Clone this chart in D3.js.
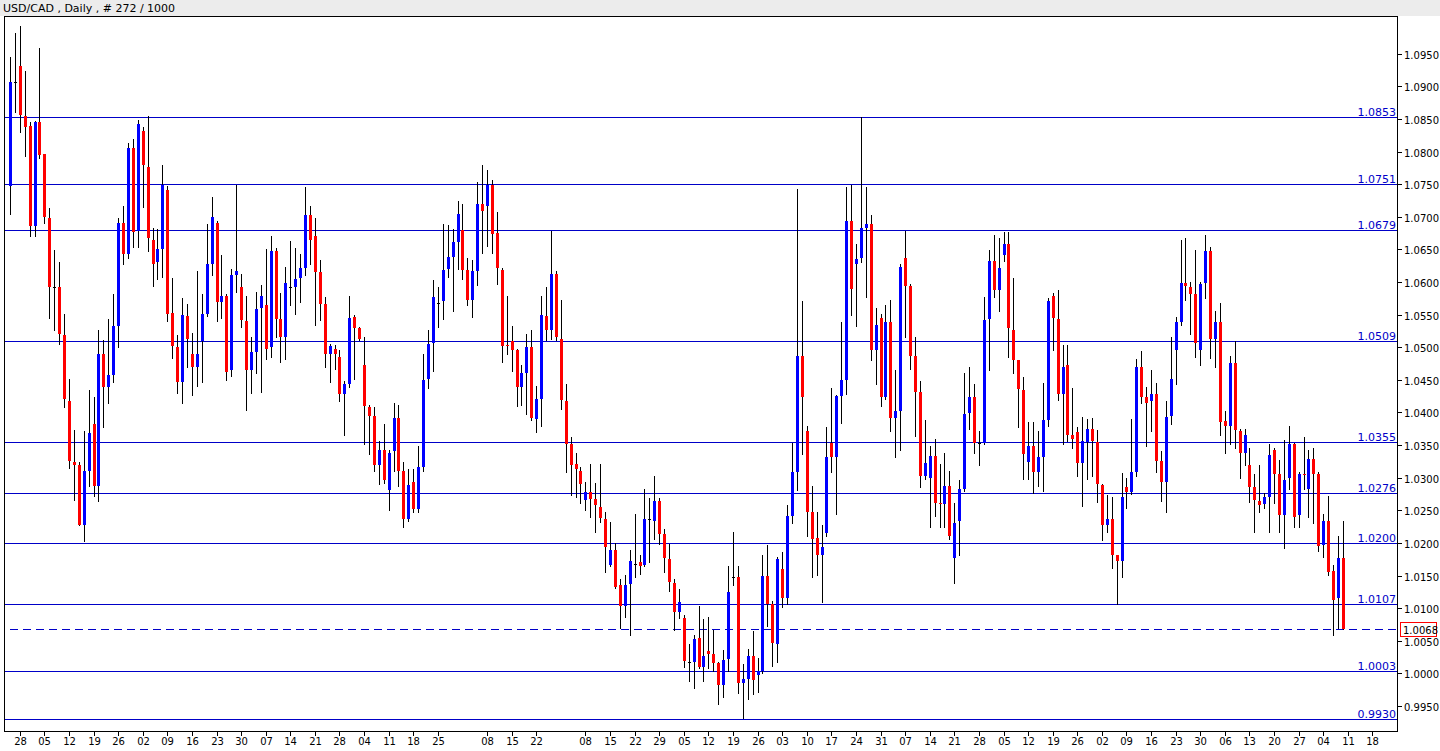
<!DOCTYPE html>
<html><head><meta charset="utf-8">
<script src="https://cdn.jsdelivr.net/npm/d3@7"></script>
<style>body{margin:0;background:#fff;} svg{display:block}</style>
</head><body><svg id="c" width="1440" height="751"></svg>
<script>
const title = "USD/CAD , Daily , # 272 / 1000";

const open = [1.0747,1.0906,1.0931,1.0854,1.0839,1.0686,1.0845,1.0796,1.0698,1.0593,1.0592,1.0518,1.0418,1.0324,1.0319,1.0228,1.0310,1.0382,1.0287,1.0489,1.0439,1.0457,1.0533,1.0690,1.0643,1.0806,1.0678,1.0832,1.0777,1.0665,1.0630,1.0650,1.0741,1.0553,1.0501,1.0447,1.0548,1.0489,1.0470,1.0509,1.0551,1.0628,1.0691,1.0570,1.0579,1.0465,1.0611,1.0593,1.0540,1.0465,1.0493,1.0560,1.0564,1.0501,1.0648,1.0544,1.0515,1.0592,1.0592,1.0606,1.0621,1.0702,1.0670,1.0615,1.0566,1.0489,1.0498,1.0485,1.0429,1.0443,1.0546,1.0529,1.0473,1.0408,1.0394,1.0319,1.0342,1.0281,1.0341,1.0392,1.0310,1.0237,1.0293,1.0252,1.0316,1.0452,1.0507,1.0568,1.0571,1.0620,1.0638,1.0661,1.0680,1.0619,1.0573,1.0617,1.0719,1.0716,1.0749,1.0675,1.0619,1.0503,1.0509,1.0496,1.0439,1.0461,1.0500,1.0390,1.0421,1.0548,1.0527,1.0612,1.0512,1.0417,1.0351,1.0321,1.0310,1.0266,1.0278,1.0267,1.0255,1.0236,1.0166,1.0189,1.0135,1.0103,1.0137,1.0167,1.0170,1.0166,1.0236,1.0234,1.0265,1.0214,1.0175,1.0138,1.0094,1.0085,1.0017,1.0018,1.0054,1.0010,1.0035,1.0030,1.0016,0.9982,1.0022,1.0148,1.0148,0.9985,0.9992,1.0026,0.9997,1.0003,1.0149,1.0106,1.0045,1.0160,1.0116,1.0241,1.0309,1.0487,1.0371,1.0247,1.0208,1.0182,1.0215,1.0353,1.0332,1.0425,1.0449,1.0694,1.0628,1.0637,1.0683,1.0689,1.0496,1.0545,1.0424,1.0539,1.0391,1.0402,1.0637,1.0594,1.0487,1.0432,1.0302,1.0300,1.0333,1.0261,1.0260,1.0287,1.0177,1.0234,1.0283,1.0399,1.0424,1.0353,1.0353,1.0544,1.0632,1.0588,1.0642,1.0658,1.0527,1.0480,1.0434,1.0324,1.0349,1.0309,1.0332,1.0388,1.0579,1.0544,1.0429,1.0473,1.0366,1.0370,1.0322,1.0355,1.0375,1.0355,1.0289,1.0228,1.0237,1.0182,1.0173,1.0285,1.0278,1.0309,1.0469,1.0424,1.0417,1.0429,1.0325,1.0294,1.0395,1.0495,1.0539,1.0599,1.0592,1.0582,1.0495,1.0599,1.0648,1.0512,1.0538,1.0387,1.0380,1.0476,1.0371,1.0338,1.0320,1.0286,1.0265,1.0260,1.0271,1.0342,1.0305,1.0243,1.0300,1.0351,1.0243,1.0306,1.0283,1.0329,1.0305,1.0197,1.0233,1.0157,1.0115,1.0177];
const high = [1.0945,1.0982,1.0992,1.0923,1.0845,1.0847,1.0959,1.0797,1.0713,1.0649,1.0630,1.0551,1.0452,1.0373,1.0324,1.0371,1.0434,1.0423,1.0526,1.0511,1.0544,1.0581,1.0698,1.0716,1.0813,1.0819,1.0849,1.0837,1.0854,1.0683,1.0681,1.0779,1.0747,1.0606,1.0518,1.0575,1.0566,1.0522,1.0617,1.0581,1.0689,1.0730,1.0694,1.0641,1.0581,1.0620,1.0749,1.0612,1.0579,1.0515,1.0584,1.0595,1.0650,1.0670,1.0652,1.0583,1.0623,1.0663,1.0652,1.0643,1.0746,1.0716,1.0698,1.0633,1.0577,1.0505,1.0504,1.0496,1.0448,1.0578,1.0549,1.0531,1.0516,1.0412,1.0408,1.0357,1.0382,1.0342,1.0415,1.0411,1.0324,1.0313,1.0314,1.0349,1.0489,1.0527,1.0603,1.0593,1.0689,1.0687,1.0681,1.0724,1.0720,1.0637,1.0634,1.0753,1.0779,1.0771,1.0757,1.0707,1.0621,1.0578,1.0533,1.0497,1.0473,1.0520,1.0527,1.0441,1.0578,1.0593,1.0678,1.0617,1.0573,1.0443,1.0363,1.0338,1.0316,1.0294,1.0321,1.0292,1.0321,1.0247,1.0232,1.0200,1.0144,1.0151,1.0189,1.0244,1.0181,1.0283,1.0269,1.0303,1.0269,1.0222,1.0199,1.0144,1.0129,1.0089,1.0045,1.0059,1.0104,1.0084,1.0087,1.0067,1.0017,1.0036,1.0164,1.0217,1.0164,1.0014,1.0037,1.0065,1.0023,1.0182,1.0197,1.0111,1.0179,1.0186,1.0258,1.0353,1.0742,1.0571,1.0379,1.0287,1.0247,1.0227,1.0377,1.0437,1.0427,1.0539,1.0746,1.0749,1.0659,1.0853,1.0746,1.0703,1.0560,1.0551,1.0564,1.0572,1.0465,1.0627,1.0678,1.0597,1.0515,1.0448,1.0388,1.0349,1.0360,1.0321,1.0338,1.0311,1.0261,1.0297,1.0461,1.0470,1.0443,1.0371,1.0577,1.0649,1.0672,1.0667,1.0676,1.0676,1.0606,1.0480,1.0454,1.0386,1.0386,1.0371,1.0445,1.0575,1.0583,1.0588,1.0504,1.0504,1.0437,1.0377,1.0393,1.0390,1.0391,1.0373,1.0291,1.0274,1.0270,1.0182,1.0307,1.0300,1.0390,1.0482,1.0494,1.0439,1.0465,1.0445,1.0341,1.0417,1.0515,1.0546,1.0665,1.0667,1.0600,1.0649,1.0600,1.0672,1.0653,1.0555,1.0568,1.0402,1.0487,1.0509,1.0375,1.0375,1.0346,1.0305,1.0320,1.0276,1.0351,1.0346,1.0327,1.0358,1.0380,1.0353,1.0309,1.0362,1.0342,1.0346,1.0309,1.0244,1.0272,1.0166,1.0210,1.0234];
const low = [1.0705,1.0860,1.0830,1.0793,1.0670,1.0670,1.0790,1.0691,1.0545,1.0527,1.0505,1.0408,1.0315,1.0266,1.0227,1.0203,1.0287,1.0272,1.0265,1.0377,1.0415,1.0446,1.0500,1.0627,1.0637,1.0654,1.0654,1.0715,1.0648,1.0594,1.0604,1.0608,1.0540,1.0483,1.0430,1.0415,1.0470,1.0426,1.0441,1.0447,1.0548,1.0611,1.0540,1.0545,1.0450,1.0456,1.0584,1.0531,1.0404,1.0430,1.0461,1.0432,1.0482,1.0485,1.0515,1.0478,1.0482,1.0564,1.0551,1.0570,1.0610,1.0627,1.0534,1.0542,1.0469,1.0446,1.0467,1.0417,1.0366,1.0439,1.0452,1.0511,1.0351,1.0336,1.0311,1.0291,1.0292,1.0250,1.0311,1.0288,1.0225,1.0234,1.0248,1.0248,1.0311,1.0437,1.0463,1.0531,1.0544,1.0608,1.0555,1.0620,1.0605,1.0564,1.0546,1.0595,1.0644,1.0655,1.0644,1.0597,1.0478,1.0489,1.0463,1.0410,1.0412,1.0397,1.0388,1.0370,1.0380,1.0511,1.0512,1.0511,1.0406,1.0309,1.0274,1.0270,1.0261,1.0250,1.0239,1.0217,1.0232,1.0155,1.0164,1.0131,1.0070,1.0087,1.0059,1.0148,1.0153,1.0164,1.0170,1.0206,1.0199,1.0155,1.0126,1.0067,1.0085,1.0010,0.9988,0.9977,1.0008,0.9988,1.0008,1.0004,0.9953,0.9964,1.0004,1.0135,0.9970,0.9931,0.9960,0.9968,0.9971,1.0001,1.0072,1.0012,1.0017,1.0101,1.0107,1.0230,1.0281,1.0336,1.0210,1.0148,1.0151,1.0109,1.0210,1.0309,1.0244,1.0384,1.0428,1.0549,1.0533,1.0630,1.0577,1.0480,1.0443,1.0410,1.0421,1.0371,1.0332,1.0342,1.0515,1.0467,1.0364,1.0286,1.0298,1.0225,1.0241,1.0225,1.0225,1.0206,1.0138,1.0181,1.0280,1.0374,1.0338,1.0319,1.0351,1.0465,1.0577,1.0555,1.0632,1.0485,1.0461,1.0377,1.0298,1.0298,1.0277,1.0287,1.0280,1.0380,1.0496,1.0419,1.0351,1.0357,1.0346,1.0302,1.0256,1.0298,1.0302,1.0263,1.0204,1.0217,1.0162,1.0106,1.0148,1.0254,1.0275,1.0303,1.0415,1.0349,1.0371,1.0309,1.0265,1.0247,1.0382,1.0443,1.0534,1.0573,1.0520,1.0485,1.0472,1.0575,1.0483,1.0470,1.0366,1.0338,1.0351,1.0346,1.0300,1.0319,1.0263,1.0216,1.0248,1.0254,1.0217,1.0261,1.0217,1.0192,1.0283,1.0225,1.0225,1.0283,1.0239,1.0230,1.0188,1.0179,1.0151,1.0059,1.0070,1.0068];
const close = [1.0906,1.0906,1.0856,1.0837,1.0686,1.0845,1.0795,1.0700,1.0593,1.0593,1.0520,1.0421,1.0325,1.0319,1.0228,1.0310,1.0369,1.0287,1.0489,1.0439,1.0457,1.0533,1.0690,1.0643,1.0806,1.0676,1.0843,1.0779,1.0667,1.0628,1.0650,1.0749,1.0551,1.0502,1.0447,1.0550,1.0513,1.0470,1.0489,1.0551,1.0627,1.0700,1.0570,1.0579,1.0462,1.0610,1.0617,1.0542,1.0465,1.0493,1.0559,1.0578,1.0498,1.0648,1.0544,1.0515,1.0599,1.0592,1.0604,1.0621,1.0702,1.0664,1.0615,1.0566,1.0489,1.0502,1.0490,1.0429,1.0443,1.0545,1.0529,1.0512,1.0410,1.0395,1.0320,1.0342,1.0297,1.0338,1.0392,1.0310,1.0237,1.0289,1.0252,1.0316,1.0450,1.0505,1.0577,1.0568,1.0619,1.0638,1.0661,1.0704,1.0619,1.0573,1.0617,1.0719,1.0709,1.0749,1.0674,1.0622,1.0502,1.0502,1.0496,1.0439,1.0461,1.0500,1.0392,1.0421,1.0549,1.0527,1.0612,1.0515,1.0419,1.0351,1.0320,1.0314,1.0291,1.0278,1.0267,1.0258,1.0238,1.0193,1.0189,1.0133,1.0103,1.0135,1.0172,1.0167,1.0164,1.0236,1.0236,1.0265,1.0214,1.0177,1.0140,1.0094,1.0109,1.0019,1.0017,1.0052,1.0010,1.0026,1.0030,1.0016,0.9982,1.0021,1.0124,1.0148,0.9985,0.9991,1.0026,0.9990,1.0003,1.0149,1.0106,1.0046,1.0175,1.0116,1.0241,1.0309,1.0487,1.0424,1.0247,1.0206,1.0182,1.0193,1.0332,1.0332,1.0425,1.0449,1.0694,1.0590,1.0636,1.0683,1.0689,1.0495,1.0534,1.0424,1.0539,1.0391,1.0402,1.0623,1.0594,1.0487,1.0432,1.0302,1.0322,1.0333,1.0261,1.0260,1.0287,1.0210,1.0230,1.0283,1.0397,1.0424,1.0353,1.0353,1.0542,1.0632,1.0588,1.0621,1.0658,1.0529,1.0480,1.0436,1.0336,1.0349,1.0309,1.0331,1.0388,1.0571,1.0545,1.0428,1.0470,1.0366,1.0359,1.0322,1.0357,1.0374,1.0357,1.0291,1.0228,1.0237,1.0182,1.0173,1.0270,1.0278,1.0309,1.0469,1.0424,1.0415,1.0429,1.0326,1.0294,1.0393,1.0452,1.0539,1.0599,1.0594,1.0582,1.0507,1.0597,1.0648,1.0512,1.0538,1.0386,1.0379,1.0476,1.0373,1.0338,1.0366,1.0286,1.0266,1.0258,1.0271,1.0335,1.0305,1.0243,1.0296,1.0351,1.0239,1.0305,1.0305,1.0329,1.0305,1.0195,1.0233,1.0155,1.0113,1.0177,1.0068];

const levels = [1.0853, 1.0751, 1.0679, 1.0509, 1.0355, 1.0276, 1.0200, 1.0107, 1.0003, 0.9930];
const lastPrice = 1.0068;
const priceTicks = [1.0950,1.0900,1.0850,1.0800,1.0750,1.0700,1.0650,1.0600,1.0550,1.0500,1.0450,1.0400,1.0350,1.0300,1.0250,1.0200,1.0150,1.0100,1.0050,1.0000,0.9950];
const dayLabels = ["28","05","12","19","26","02","09","16","23","30","07","14","21","28","04","11","18","25",null,"08","15","22",null,"08","15","22","29","05","12","19","26","03","10","17","24","31","07","14","21","28","05","12","19","26","02","09","16","23","30","06","13","20","27","04","11","18"];
const firstLabelBar = 2, barsPerLabel = 5;

const W = 1440, H = 751;
const plot = {left: 4.5, right: 1397.5, top: 16.5, bottom: 731.5};
const svg = d3.select("#c");
svg.append("rect").attr("width", W).attr("height", H).attr("fill", "#ffffff");
svg.append("rect").attr("width", W).attr("height", 16).attr("fill", "#ececec");

const x = d3.scaleLinear().domain([-1, 282]).range([5, 1397]);
const y = d3.scaleLinear().domain([0.9930, 1.0853]).range([719, 117]);

const fontUI = "Tahoma, 'DejaVu Sans', sans-serif";

svg.append("text").attr("x", 3).attr("y", 12).attr("font-family", fontUI).attr("font-size", 11)
  .attr("fill", "#000").text(title);

const g = svg.append("g").attr("shape-rendering", "crispEdges");

// levels
levels.forEach(v => {
  const yy = Math.round(y(v)) + 0.5;
  g.append("line").attr("x1", plot.left).attr("x2", plot.right).attr("y1", yy).attr("y2", yy)
    .attr("stroke", "#0000c8").attr("stroke-width", 1);
  svg.append("text").attr("x", 1396).attr("y", yy - 2).attr("text-anchor", "end")
    .attr("font-family", fontUI).attr("font-size", 11).attr("fill", "#0000c8").text(v.toFixed(4));
});
// last price dashed line
{
  const yy = Math.round(y(lastPrice)) + 0.5;
  g.append("line").attr("x1", x(0)).attr("x2", plot.right).attr("y1", yy).attr("y2", yy)
    .attr("stroke", "#0000c8").attr("stroke-dasharray", "8,5");
}

// candles
const bars = d3.range(open.length).map(i => ({i, o: open[i], h: high[i], l: low[i], c: close[i]}));
const cg = g.append("g");
cg.selectAll("line.w").data(bars).join("line").attr("class", "w")
  .attr("x1", d => Math.round(x(d.i)) + 0.5).attr("x2", d => Math.round(x(d.i)) + 0.5)
  .attr("y1", d => Math.round(y(d.h))).attr("y2", d => Math.round(y(d.l)) + 1)
  .attr("stroke", "#000");
cg.selectAll("rect.b").data(bars).join("rect").attr("class", "b")
  .attr("x", d => Math.round(x(d.i)) - 1)
  .attr("width", 3)
  .attr("y", d => Math.round(y(Math.max(d.o, d.c))))
  .attr("height", d => Math.max(1, Math.round(y(Math.min(d.o, d.c))) - Math.round(y(Math.max(d.o, d.c)))))
  .attr("fill", d => d.c > d.o ? "#0000ff" : (d.c < d.o ? "#ff0000" : "#000000"));

// frame
g.append("rect").attr("x", plot.left).attr("y", plot.top).attr("width", plot.right - plot.left)
  .attr("height", plot.bottom - plot.top).attr("fill", "none").attr("stroke", "#000");

// right axis
priceTicks.forEach(v => {
  const yy = Math.round(y(v)) + 0.5;
  g.append("line").attr("x1", plot.right).attr("x2", plot.right + 4).attr("y1", yy).attr("y2", yy).attr("stroke", "#000");
  svg.append("text").attr("x", 1404).attr("y", yy + 4).attr("font-family", fontUI).attr("font-size", 10)
    .attr("fill", "#000").text(v.toFixed(4));
});
// last price box
{
  const yy = Math.round(y(lastPrice)) + 0.5;
  svg.append("rect").attr("x", 1400.5).attr("y", yy - 7).attr("width", 36).attr("height", 14)
    .attr("fill", "#fff").attr("stroke", "#ff0000").attr("shape-rendering", "crispEdges");
  svg.append("text").attr("x", 1403).attr("y", yy + 4).attr("font-family", fontUI).attr("font-size", 10)
    .attr("fill", "#000").text(lastPrice.toFixed(4));
}

// bottom axis
dayLabels.forEach((lab, k) => {
  if (lab === null) return;
  const bi = firstLabelBar + k * barsPerLabel;
  const xx = Math.round(x(bi)) + 0.5;
  g.append("line").attr("x1", xx).attr("x2", xx).attr("y1", plot.bottom).attr("y2", plot.bottom + 4).attr("stroke", "#000");
  svg.append("text").attr("x", xx).attr("y", 745).attr("text-anchor", "middle")
    .attr("font-family", fontUI).attr("font-size", 10).attr("fill", "#000").text(lab);
});
</script></body></html>
